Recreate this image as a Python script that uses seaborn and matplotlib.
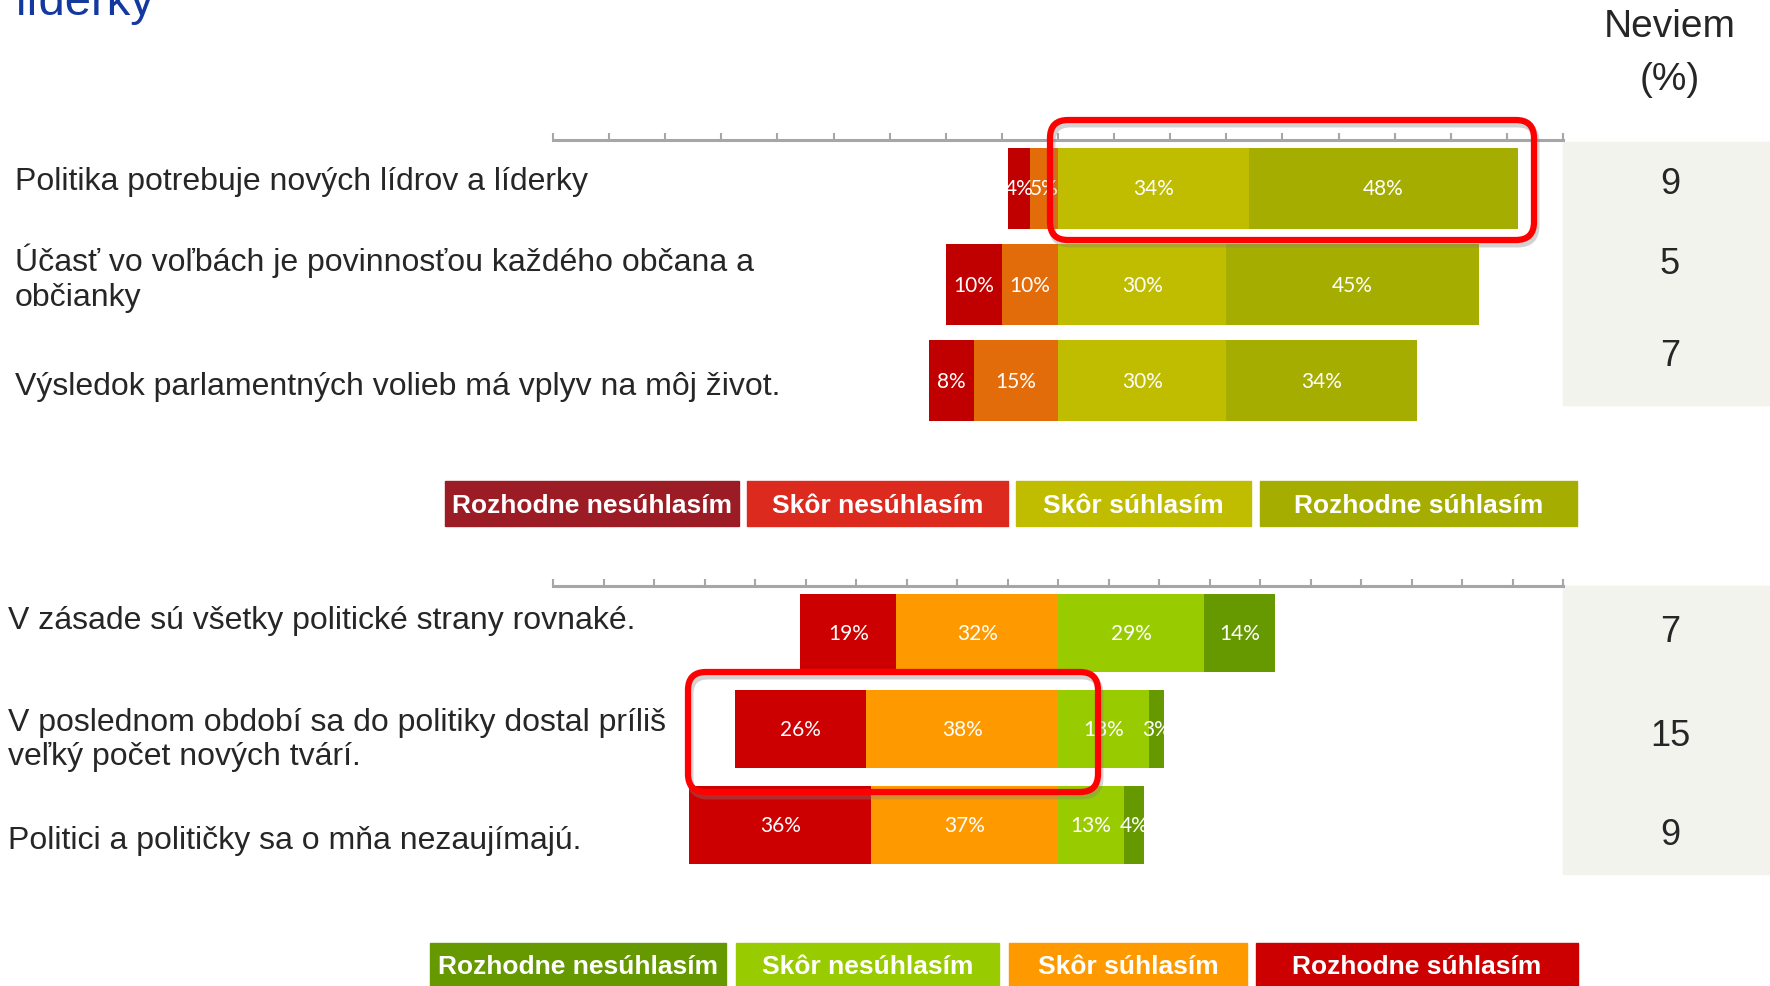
import matplotlib
matplotlib.use('Agg')
import matplotlib.pyplot as plt
from matplotlib.patches import Rectangle, FancyBboxPatch
from matplotlib.transforms import IdentityTransform
import numpy as np
import pandas as pd
import seaborn as sns

W, H = 1770, 987

# --- data -----------------------------------------------------------------
legend_labels = ['Rozhodne nesúhlasím', 'Skôr nesúhlasím', 'Skôr súhlasím', 'Rozhodne súhlasím']

top_statements = ['Politika potrebuje nových lídrov a líderky',
                  'Účasť vo voľbách je povinnosťou každého občana a\nobčianky',
                  'Výsledok parlamentných volieb má vplyv na môj život.']
top_strongly_disagree = [4, 10, 8]
top_disagree = [5, 10, 15]
top_agree = [34, 30, 30]
top_strongly_agree = [48, 45, 34]
top_dont_know = [9, 5, 7]

bottom_statements = ['V zásade sú všetky politické strany rovnaké.',
                     'V poslednom období sa do politiky dostal príliš\nveľký počet nových tvárí.',
                     'Politici a političky sa o mňa nezaujímajú.']
bottom_strongly_agree = [19, 26, 36]
bottom_agree = [32, 38, 37]
bottom_disagree = [29, 18, 13]
bottom_strongly_disagree = [14, 3, 4]
bottom_dont_know = [7, 15, 9]

# colours: left outer, left inner, right inner, right outer
top_colors = ['#C00000', '#E36C0A', '#C0BC00', '#A5AD00']
top_legend_colors = ['#9B1C24', '#DC2A1E', '#C0BC00', '#A5AE00']
bottom_colors = ['#CC0000', '#FF9900', '#99CC00', '#669900']
bottom_legend_colors = ['#669900', '#99CC00', '#FF9900', '#CC0000']

sns.set_style('white')
plt.rcParams['font.family'] = ['Liberation Sans', 'DejaVu Sans']

fig = plt.figure(figsize=(W / 100, H / 100), dpi=100)


def fx(x):
    return x / W


def fy(y):
    return 1 - y / H


def draw_block(ax, statements, lo, li, ri, ro, colors, bar_w, lim, ytop):
    df = pd.DataFrame({'statement': statements, 'lo': lo, 'li': li, 'ri': ri, 'ro': ro})
    df['left_total'] = -(df['lo'] + df['li'])
    df['left_inner'] = -df['li']
    df['right_total'] = df['ri'] + df['ro']
    layers = [('left_total', colors[0]), ('left_inner', colors[1]),
              ('right_total', colors[3]), ('ri', colors[2])]
    for col, c in layers:
        sns.barplot(data=df, x=col, y='statement', color=c, saturation=1,
                    width=bar_w, errorbar=None, orient='h', ax=ax, linewidth=0)
    for i, row in df.iterrows():
        centers = [-(row.li + row.lo / 2), -row.li / 2, row.ri / 2, row.ri + row.ro / 2]
        for c, v in zip(centers, [row.lo, row.li, row.ri, row.ro]):
            ax.text(c, i, f'{v}%', ha='center', va='center', color='white',
                    fontsize=15, family=['Lato', 'DejaVu Sans'])
    ax.set_xlim(-lim, lim)
    ax.set_ylim(2.5, ytop)
    ax.set_xlabel('')
    ax.set_ylabel('')
    ax.set_yticks([])
    ax.set_xticks(np.arange(-lim, lim + 1, 10))
    ax.xaxis.set_ticks_position('top')
    ax.tick_params(axis='x', top=True, bottom=False, labeltop=False, labelbottom=False,
                   direction='out', length=5, width=1.5, color='#A6A6A6')
    for s in ['left', 'right', 'bottom']:
        ax.spines[s].set_visible(False)
    ax.spines['top'].set_color('#A6A6A6')
    ax.spines['top'].set_linewidth(2.2)
    ax.patch.set_alpha(0)


# axes placed in pixel positions of the reference
ax_top = fig.add_axes([fx(553), fy(430), fx(1563) - fx(553), fy(141) - fy(430)])
draw_block(ax_top, top_statements, top_strongly_disagree, top_disagree, top_agree,
           top_strongly_agree, top_colors, 0.84, 90, -0.50)

ax_bot = fig.add_axes([fx(553), fy(874), fx(1563) - fx(553), fy(587) - fy(874)])
draw_block(ax_bot, bottom_statements, bottom_strongly_agree, bottom_agree, bottom_disagree,
           bottom_strongly_disagree, bottom_colors, 0.82, 100, -0.49)

# statements on the left
for y, s in zip([182, 278, 387], top_statements):
    fig.text(fx(15), fy(y), s, ha='left', va='center', fontsize=23, linespacing=1.2)
for y, s in zip([621, 740, 841], bottom_statements):
    fig.text(fx(8), fy(y), s, ha='left', va='center', fontsize=23, linespacing=1.2)

# title fragment cut at the top
fig.text(fx(16), fy(15), 'líderky', ha='left', va='baseline', fontsize=34, color='#1338A0')

# "Neviem" column
fig.text(fx(1670), fy(27), 'Neviem', ha='center', va='center', fontsize=28)
fig.text(fx(1670), fy(80), '(%)', ha='center', va='center', fontsize=28)
fig.add_artist(Rectangle((fx(1563), fy(406)), fx(1770) - fx(1563), fy(143) - fy(406),
                         transform=fig.transFigure, color='#F3F3EE', zorder=0))
fig.add_artist(Rectangle((fx(1563), fy(875)), fx(1770) - fx(1563), fy(587) - fy(875),
                         transform=fig.transFigure, color='#F3F3EE', zorder=0))
for y, v in zip([185, 264, 357], top_dont_know):
    fig.text(fx(1670), fy(y), str(v), ha='center', va='center', fontsize=26)
for y, v in zip([633, 737, 836], bottom_dont_know):
    fig.text(fx(1670), fy(y), str(v), ha='center', va='center', fontsize=26)

# legends as coloured boxes
top_legend_x = [(445, 739), (747, 1008), (1016, 1251), (1260, 1577)]
bottom_legend_x = [(430, 726), (736, 999), (1009, 1247), (1256, 1578)]
for (x0, x1), c, lab in zip(top_legend_x, top_legend_colors, legend_labels):
    fig.add_artist(Rectangle((fx(x0), fy(527)), fx(x1) - fx(x0), fy(482) - fy(527),
                             transform=fig.transFigure, color=c))
    fig.text(fx((x0 + x1) / 2), fy(506), lab, ha='center', va='center', color='white',
             fontsize=19, fontweight='bold')
for (x0, x1), c, lab in zip(bottom_legend_x, bottom_legend_colors, legend_labels):
    fig.add_artist(Rectangle((fx(x0), fy(992)), fx(x1) - fx(x0), fy(944) - fy(992),
                             transform=fig.transFigure, color=c))
    fig.text(fx((x0 + x1) / 2), fy(967), lab, ha='center', va='center', color='white',
             fontsize=19, fontweight='bold')

# red highlight boxes (pixel coordinates, origin bottom-left)
for x0, y0, x1, y1 in [(1050, 121, 1534, 241), (688, 673, 1098, 793)]:
    shadow = FancyBboxPatch((x0 + 2, H - y1 - 4), x1 - x0, y1 - y0,
                            boxstyle='round,pad=0,rounding_size=18', transform=IdentityTransform(),
                            fill=False, edgecolor='#808080', alpha=0.35, linewidth=5)
    box = FancyBboxPatch((x0, H - y1), x1 - x0, y1 - y0,
                         boxstyle='round,pad=0,rounding_size=18', transform=IdentityTransform(),
                         fill=False, edgecolor='#FF0000', linewidth=4.5)
    fig.add_artist(shadow)
    fig.add_artist(box)

fig.savefig('out.png', dpi=100)
